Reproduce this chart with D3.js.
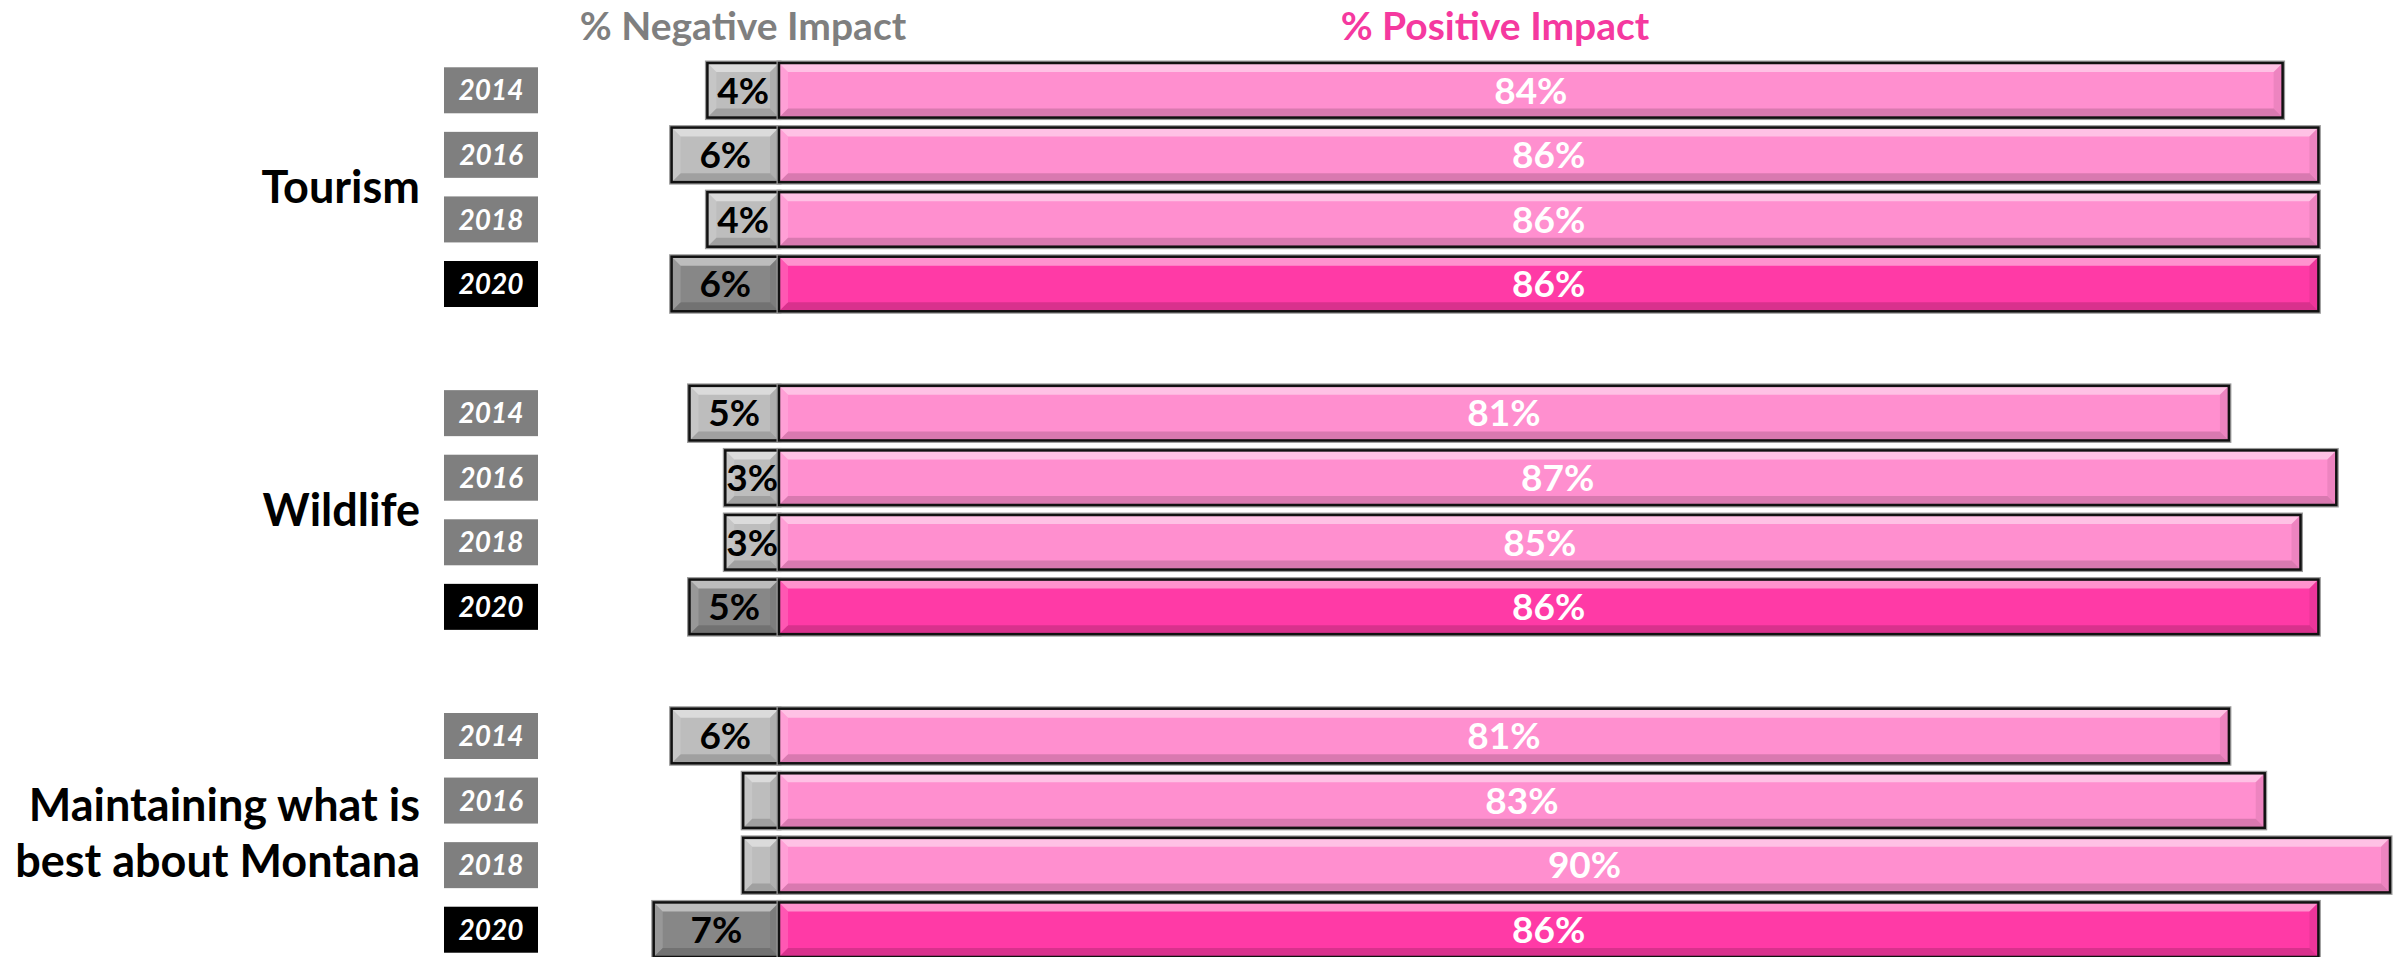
<!DOCTYPE html>
<html>
<head>
<meta charset="utf-8">
<script src="https://cdn.jsdelivr.net/npm/d3@7"></script>
<style>
  body { margin: 0; background: #fff; }
  svg { display: block; font-family: Lato, "Open Sans", sans-serif; }
</style>
</head>
<body>
<svg id="chart" width="2402" height="957"></svg>
<script>
// data
var categories = ["Tourism", "Wildlife", "Maintaining what is best about Montana"];
var years = ["2014", "2016", "2018", "2020"];
var negative = [
  [4, 6, 4, 6],
  [5, 3, 3, 5],
  [6, 2, 2, 7]
];
var positive = [
  [84, 86, 86, 86],
  [81, 87, 85, 86],
  [81, 83, 90, 86]
];
var catLines = [["Tourism"], ["Wildlife"], ["Maintaining what is", "best about Montana"]];

var W = 2402, H = 957;
var svg = d3.select("#chart");

// rows, with an empty slot between the groups
var rows = [], domain = [];
categories.forEach(function(c, ci) {
  if (ci > 0) domain.push("gap" + ci);
  years.forEach(function(yr, yi) {
    var key = c + "|" + yr;
    domain.push(key);
    rows.push({cat: c, ci: ci, year: yr, yi: yi, key: key,
               neg: negative[ci][yi], pos: positive[ci][yi]});
  });
});

var y = d3.scaleBand()
  .domain(domain)
  .range([58, 962])
  .paddingInner(0.155)
  .paddingOuter(0.0775);

var x = d3.scaleLinear()
  .domain([-10, 90])
  .range([600, 2390]);

var col = {
  posLight: "#ff8fcf", posDark: "#ff3aa6",
  negLight: "#bdbdbd", negDark: "#878787"
};

// bevel look: highlight on top/left, shade on bottom/right
function bevel(g, x0, y0, w, h, fill) {
  var b = Math.min(9, w / 2, h / 2);
  var x1 = x0 + w, y1 = y0 + h;
  g.append("rect").attr("x", x0).attr("y", y0).attr("width", w).attr("height", h)
    .attr("fill", "none").attr("stroke", "#9a9a9a").attr("stroke-width", 5);
  g.append("rect").attr("x", x0).attr("y", y0).attr("width", w).attr("height", h)
    .attr("fill", fill);
  var polys = [
    {p: [[x0, y0], [x1, y0], [x1 - b, y0 + b], [x0 + b, y0 + b]], c: "#fff", o: 0.45},
    {p: [[x0, y0], [x0 + b, y0 + b], [x0 + b, y1 - b], [x0, y1]], c: "#fff", o: 0.15},
    {p: [[x0, y1], [x1, y1], [x1 - b, y1 - b], [x0 + b, y1 - b]], c: "#000", o: 0.15},
    {p: [[x1, y0], [x1, y1], [x1 - b, y1 - b], [x1 - b, y0 + b]], c: "#000", o: 0.07}
  ];
  polys.forEach(function(d) {
    g.append("polygon")
      .attr("points", d.p.map(function(q) { return q.join(","); }).join(" "))
      .attr("fill", d.c).attr("fill-opacity", d.o);
  });
  g.append("rect").attr("x", x0).attr("y", y0).attr("width", w).attr("height", h)
    .attr("fill", "none").attr("stroke", "#111").attr("stroke-width", 2.5);
}

var bars = svg.append("g");
rows.forEach(function(d) {
  var g = bars.append("g");
  var last = d.yi === years.length - 1;
  var y0 = y(d.key), h = y.bandwidth();
  bevel(g, x(-d.neg), y0, x(0) - x(-d.neg), h, last ? col.negDark : col.negLight);
  bevel(g, x(0), y0, x(d.pos) - x(0), h, last ? col.posDark : col.posLight);

  if (d.neg >= 3) {
    g.append("text")
      .attr("x", (x(-d.neg) + x(0)) / 2)
      .attr("y", y0 + h / 2)
      .attr("dy", "0.36em")
      .attr("text-anchor", "middle")
      .attr("font-size", 37).attr("font-weight", "bold")
      .attr("fill", "#000")
      .text(d.neg + "%");
  }
  g.append("text")
    .attr("x", (x(0) + x(d.pos)) / 2)
    .attr("y", y0 + h / 2)
    .attr("dy", "0.36em")
    .attr("text-anchor", "middle")
    .attr("font-size", 37).attr("font-weight", "bold")
    .attr("fill", "#fff")
    .text(d.pos + "%");
});

// year boxes
var yearG = svg.append("g");
rows.forEach(function(d) {
  var cy = y(d.key) + y.bandwidth() / 2;
  var last = d.yi === years.length - 1;
  yearG.append("rect")
    .attr("x", 444).attr("y", cy - 23)
    .attr("width", 94).attr("height", 46)
    .attr("fill", last ? "#000" : "#7f7f7f");
  yearG.append("text")
    .attr("x", 491).attr("y", cy)
    .attr("dy", "0.36em")
    .attr("text-anchor", "middle")
    .attr("font-size", 28).attr("font-weight", "bold").attr("font-style", "italic")
    .attr("fill", "#fff")
    .text(d.year);
});

// category labels
var catG = svg.append("g");
categories.forEach(function(c, ci) {
  var k1 = c + "|" + years[1], k2 = c + "|" + years[2];
  var cy = (y(k1) + y(k2) + y.bandwidth()) / 2;
  var lines = catLines[ci];
  var lh = 56;
  var t = catG.append("text")
    .attr("text-anchor", "end")
    .attr("font-size", 45).attr("font-weight", "bold")
    .attr("fill", "#000");
  lines.forEach(function(l, li) {
    t.append("tspan")
      .attr("x", 420)
      .attr("y", cy + (li - (lines.length - 1) / 2) * lh)
      .attr("dy", "0.36em")
      .text(l);
  });
});

// headers
svg.append("text")
  .attr("x", 743).attr("y", 40)
  .attr("text-anchor", "middle")
  .attr("font-size", 39).attr("font-weight", "bold")
  .attr("fill", "#7f7f7f")
  .text("% Negative Impact");
svg.append("text")
  .attr("x", 1495).attr("y", 40)
  .attr("text-anchor", "middle")
  .attr("font-size", 39).attr("font-weight", "bold")
  .attr("fill", "#f5399f")
  .text("% Positive Impact");
</script>
</body>
</html>
